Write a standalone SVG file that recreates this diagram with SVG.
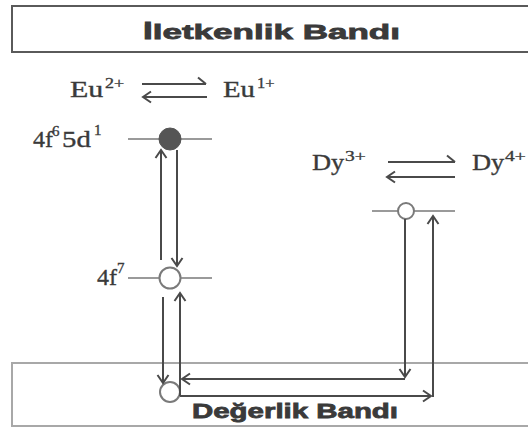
<svg xmlns="http://www.w3.org/2000/svg" width="528" height="432" viewBox="0 0 528 432">
<style>
.band{fill:#fff;stroke-width:2}
.btitle{font-family:"Liberation Sans",Arial,sans-serif;font-weight:bold;font-size:21px;fill:#3a3a3a;stroke:#3a3a3a;stroke-width:0.8}
.serif{font-family:"Liberation Serif","Times New Roman",serif;fill:#3a3a3a;stroke:#3a3a3a;stroke-width:0.35}
.main{font-size:24px}
.sup{font-size:15px}
.level{stroke:#9a9a9a;stroke-width:2;fill:none}
.conn{stroke:#4a4a4a;stroke-width:2;fill:none}
.ring{fill:#fff;stroke:#7a7a7a;stroke-width:2}
</style>
<defs>
<marker id="ah" markerUnits="userSpaceOnUse" markerWidth="14" markerHeight="14" refX="11" refY="7" orient="auto" overflow="visible">
<path d="M3,1.5 L11,7 L3,12.5" fill="none" stroke="#4a4a4a" stroke-width="2"/>
</marker>
<marker id="harp" markerUnits="userSpaceOnUse" markerWidth="14" markerHeight="14" refX="11" refY="7" orient="auto" overflow="visible">
<path d="M3,0.5 L11,7" fill="none" stroke="#4a4a4a" stroke-width="2"/>
</marker>
</defs>
<rect width="528" height="432" fill="#fff"/>

<g id="conduction-band">
<rect class="band" x="12" y="6" width="530" height="46" stroke="#5a5a5a"/>
<text class="btitle" x="143" y="39" textLength="257" lengthAdjust="spacingAndGlyphs">İletkenlik Bandı</text>
</g>

<g id="valence-band">
<rect class="band" x="12" y="363" width="530" height="63" stroke="#a8a8a8"/>
<text class="btitle" x="192" y="418" textLength="206" lengthAdjust="spacingAndGlyphs">Değerlik Bandı</text>
</g>

<g id="eu-equilibrium">
<text class="serif main" transform="translate(70,97) scale(1.25,1)">Eu</text>
<text class="serif sup" transform="translate(105,88) scale(1.2,1)">2+</text>
<line class="conn" x1="142" y1="84" x2="206" y2="84" marker-end="url(#harp)"/>
<line class="conn" x1="207" y1="97" x2="143" y2="97" marker-end="url(#ah)"/>
<text class="serif main" transform="translate(223,97) scale(1.2,1)">Eu</text>
<text class="serif sup" transform="translate(257,88) scale(1.1,1)">1+</text>
</g>

<g id="dy-equilibrium">
<text class="serif main" transform="translate(312,170) scale(1.1,1)">Dy</text>
<text class="serif sup" transform="translate(345,161) scale(1.3,1)">3+</text>
<line class="conn" x1="388" y1="162" x2="455" y2="162" marker-end="url(#harp)"/>
<line class="conn" x1="455" y1="177" x2="387" y2="177" marker-end="url(#ah)"/>
<text class="serif main" transform="translate(472,170) scale(1.1,1)">Dy</text>
<text class="serif sup" transform="translate(505,161) scale(1.3,1)">4+</text>
</g>

<g id="level-4f6-5d1">
<text class="serif main" transform="translate(33,147)">4f</text>
<text class="serif sup" transform="translate(52,136)">6</text>
<text class="serif main" transform="translate(62,147) scale(1.2,1)">5d</text>
<text class="serif sup" transform="translate(94,135)">1</text>
<line class="level" x1="128" y1="139" x2="212" y2="139"/>
<circle cx="170" cy="139" r="11" fill="#555" stroke="#555" stroke-width="1"/>
</g>

<g id="level-4f7">
<text class="serif main" transform="translate(97,285)">4f</text>
<text class="serif sup" transform="translate(117,273)">7</text>
<line class="level" x1="128" y1="278" x2="212" y2="278"/>
<circle class="ring" cx="170" cy="278" r="10.5"/>
</g>

<g id="level-dy">
<line class="level" x1="372" y1="211" x2="455" y2="211"/>
<circle class="ring" cx="406" cy="211" r="8"/>
</g>

<g id="valence-hole">
<circle class="ring" cx="170" cy="392" r="10"/>
</g>

<g id="connectors">
<line class="conn" x1="161" y1="260" x2="161" y2="150" marker-end="url(#ah)"/>
<line class="conn" x1="177" y1="150" x2="177" y2="266" marker-end="url(#ah)"/>
<line class="conn" x1="163" y1="297" x2="163" y2="383" marker-end="url(#ah)"/>
<line class="conn" x1="180" y1="396" x2="180" y2="293" marker-end="url(#ah)"/>
<line class="conn" x1="405" y1="219" x2="405" y2="377" marker-end="url(#ah)"/>
<polyline class="conn" points="405,379 182,379" marker-end="url(#ah)"/>
<polyline class="conn" points="180,396 431,396" marker-end="url(#ah)"/>
<line class="conn" x1="433" y1="397" x2="433" y2="216" marker-end="url(#ah)"/>
</g>
</svg>
